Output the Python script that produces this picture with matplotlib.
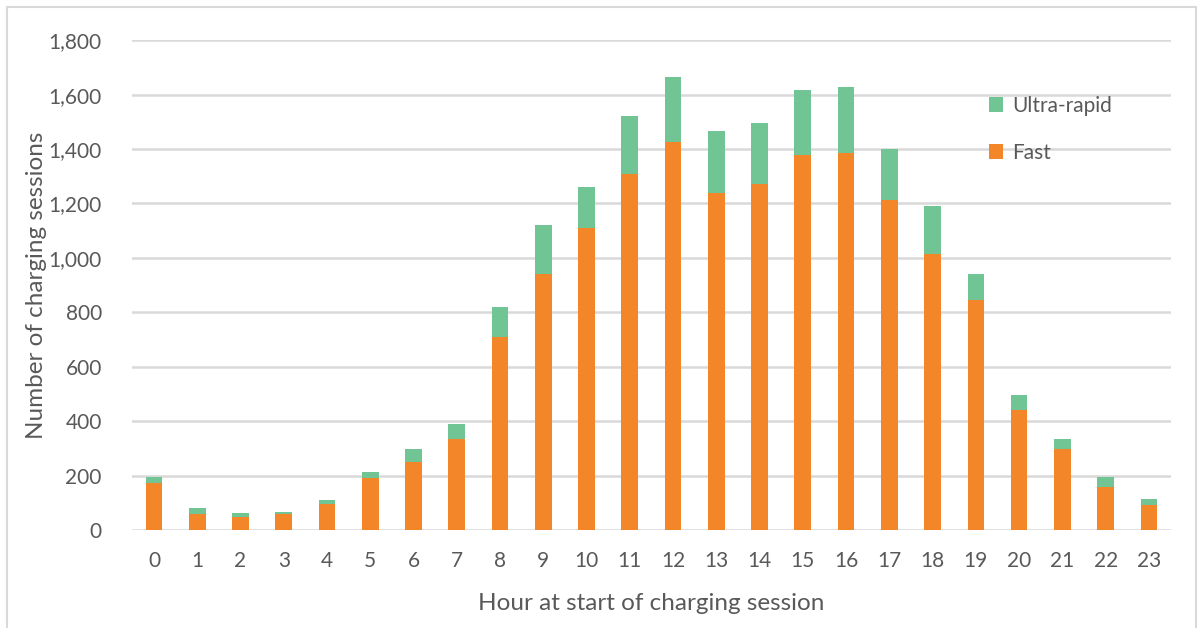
import matplotlib
matplotlib.use("Agg")
import matplotlib.pyplot as plt
from matplotlib.patches import Rectangle
from matplotlib.ticker import FuncFormatter

hours = [str(h) for h in range(24)]
fast = [172, 59, 49, 59, 97, 191, 250, 336, 709, 939, 1111, 1310, 1425, 1239,
        1272, 1378, 1385, 1211, 1014, 845, 440, 297, 159, 91]
total = [194, 82, 63, 68, 110, 213, 297, 391, 821, 1120, 1261, 1523, 1665, 1467,
         1495, 1616, 1628, 1401, 1191, 942, 495, 334, 194, 115]
ultra = [t - f for t, f in zip(total, fast)]

series_names = ["Fast", "Ultra-rapid"]
c_fast = "#F4862A"
c_ultra = "#71C594"
txt = "#595959"
grid = "#D9D9D9"

plt.rcParams['font.family'] = ['Lato', 'DejaVu Sans']

fig = plt.figure(figsize=(12.03, 6.28), dpi=100)
ax = fig.add_axes([0.110, 0.156, 0.863, 0.780])

x = list(range(len(hours)))
w = 0.385
b1 = ax.bar(x, fast, width=w, color=c_fast, label=series_names[0], zorder=3)
b2 = ax.bar(x, ultra, width=w, bottom=fast, color=c_ultra, label=series_names[1], zorder=3)

ax.set_xlim(-0.5, len(hours) - 0.5)
ax.set_ylim(0, 1800)
ax.set_yticks(range(0, 1801, 200))
ax.yaxis.set_major_formatter(FuncFormatter(lambda v, p: f"{int(v):,}"))
ax.set_xticks(x)
ax.set_xticklabels(hours)
ax.grid(axis='y', color=grid, linewidth=1.8, zorder=0)
ax.set_axisbelow(True)
for s in ax.spines.values():
    s.set_visible(False)
ax.tick_params(axis='both', length=0, colors=txt, labelsize=15)
ax.tick_params(axis='x', pad=15)
ax.tick_params(axis='y', pad=22)

ax.set_xlabel("Hour at start of charging session", color=txt, fontsize=17.5, labelpad=16)
ax.set_ylabel("Number of charging sessions", color=txt, fontsize=17.5)
ax.yaxis.set_label_coords(-0.082, 0.5)

leg = ax.legend(handles=[b2, b1], labels=[series_names[1], series_names[0]],
                loc='upper left', bbox_to_anchor=(0.807, 0.925), frameon=False,
                fontsize=15, labelcolor=txt, handlelength=0.7, handleheight=0.7,
                handletextpad=0.4, labelspacing=1.3)

fig.patches.append(Rectangle((7 / 1203, -0.05), (1196 - 7) / 1203, 1 - 7 / 628 + 0.05,
                             transform=fig.transFigure, fill=False,
                             edgecolor="#D9D9D9", linewidth=1.5))

fig.savefig("out.png", dpi=100)
